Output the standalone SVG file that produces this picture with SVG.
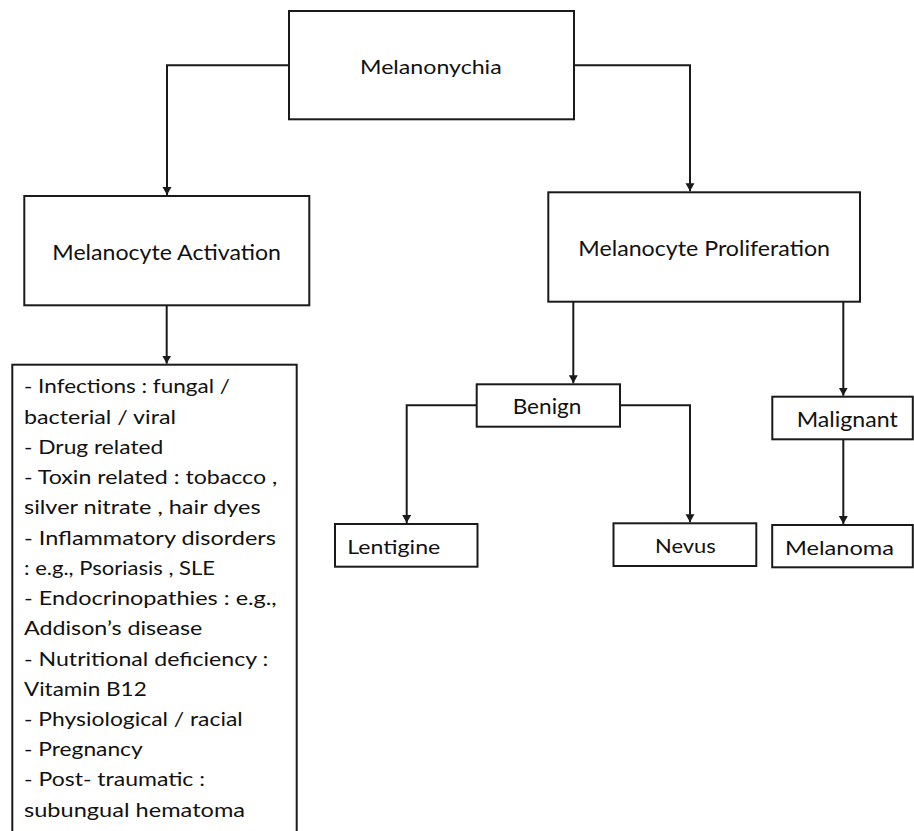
<svg xmlns="http://www.w3.org/2000/svg" width="914" height="831" viewBox="0 0 914 831">
<style>
.box{fill:#fff;stroke:#1a1a1a;stroke-width:2}
.t{font-family:Lato,"Open Sans","Liberation Sans",sans-serif;fill:#111}
.c{fill:none;stroke:#1a1a1a;stroke-width:2;marker-end:url(#ah)}
</style>
<defs>
<marker id="ah" markerUnits="userSpaceOnUse" markerWidth="10" markerHeight="10" refX="8" refY="4.5" orient="auto">
<path d="M0,0 L8,4.5 L0,9 Z" fill="#1a1a1a"/>
</marker>
</defs>
<rect width="914" height="831" fill="#fff"/>
<g id="connectors">
<path class="c" d="M289,65.3 H167 V195"/>
<path class="c" d="M574,65.3 H690 V191.3"/>
<path class="c" d="M166.7,305.3 V363.7"/>
<path class="c" d="M573.3,301.7 V383.3"/>
<path class="c" d="M843.3,301.7 V395.7"/>
<path class="c" d="M476.7,405.3 H406.7 V523"/>
<path class="c" d="M620,405.3 H690 V522.3"/>
<path class="c" d="M843.3,439.3 V524"/>
</g>
<g id="melanonychia">
<rect class="box" x="289" y="11" width="285" height="108.3"/>
<text class="t" x="360" y="74" font-size="19" textLength="141.7" lengthAdjust="spacingAndGlyphs">Melanonychia</text>
</g>
<g id="activation">
<rect class="box" x="24.3" y="196" width="285" height="109.3"/>
<text class="t" x="52.3" y="260" font-size="22" textLength="228.7" lengthAdjust="spacingAndGlyphs">Melanocyte Activation</text>
</g>
<g id="proliferation">
<rect class="box" x="548.3" y="192.3" width="311.7" height="109.4"/>
<text class="t" x="578.3" y="256" font-size="21" textLength="251.7" lengthAdjust="spacingAndGlyphs">Melanocyte Proliferation</text>
</g>
<g id="causes">
<rect class="box" x="12.3" y="364.7" width="284.4" height="500"/>
<g class="t" font-size="20">
<text x="24" y="393.3" textLength="206" lengthAdjust="spacingAndGlyphs">- Infections : fungal /</text>
<text x="24" y="423.5" textLength="152" lengthAdjust="spacingAndGlyphs">bacterial / viral</text>
<text x="24" y="453.8" textLength="139.3" lengthAdjust="spacingAndGlyphs">- Drug related</text>
<text x="24" y="484" textLength="253.3" lengthAdjust="spacingAndGlyphs">- Toxin related : tobacco ,</text>
<text x="24" y="514.3" textLength="236.7" lengthAdjust="spacingAndGlyphs">silver nitrate , hair dyes</text>
<text x="24" y="544.5" textLength="252" lengthAdjust="spacingAndGlyphs">- Inflammatory disorders</text>
<text x="24" y="574.7" textLength="191" lengthAdjust="spacingAndGlyphs">: e.g., Psoriasis , SLE</text>
<text x="24" y="605" textLength="252.7" lengthAdjust="spacingAndGlyphs">- Endocrinopathies : e.g.,</text>
<text x="24" y="635.2" textLength="178.3" lengthAdjust="spacingAndGlyphs">Addison’s disease</text>
<text x="24" y="665.5" textLength="244.3" lengthAdjust="spacingAndGlyphs">- Nutritional deficiency :</text>
<text x="24" y="695.7" textLength="122.7" lengthAdjust="spacingAndGlyphs">Vitamin B12</text>
<text x="24" y="726" textLength="218.7" lengthAdjust="spacingAndGlyphs">- Physiological / racial</text>
<text x="24" y="756.2" textLength="118.7" lengthAdjust="spacingAndGlyphs">- Pregnancy</text>
<text x="24" y="786.4" textLength="181" lengthAdjust="spacingAndGlyphs">- Post- traumatic :</text>
<text x="24" y="816.7" textLength="221" lengthAdjust="spacingAndGlyphs">subungual hematoma</text>
</g>
</g>
<g id="benign">
<rect class="box" x="476.7" y="384.3" width="143.3" height="42.4"/>
<text class="t" x="512.7" y="414.3" font-size="21" textLength="68.7" lengthAdjust="spacingAndGlyphs">Benign</text>
</g>
<g id="malignant">
<rect class="box" x="772.3" y="396.7" width="140.5" height="42.6"/>
<text class="t" x="796.7" y="426.7" font-size="21" textLength="101" lengthAdjust="spacingAndGlyphs">Malignant</text>
</g>
<g id="lentigine">
<rect class="box" x="335" y="524" width="142.5" height="42.7"/>
<text class="t" x="347.3" y="554" font-size="20" textLength="93" lengthAdjust="spacingAndGlyphs">Lentigine</text>
</g>
<g id="nevus">
<rect class="box" x="613.5" y="523.3" width="142.8" height="42.7"/>
<text class="t" x="655" y="553.3" font-size="20" textLength="60.8" lengthAdjust="spacingAndGlyphs">Nevus</text>
</g>
<g id="melanoma">
<rect class="box" x="772.2" y="525" width="140.6" height="42.3"/>
<text class="t" x="785" y="555" font-size="20" textLength="109" lengthAdjust="spacingAndGlyphs">Melanoma</text>
</g>
</svg>
